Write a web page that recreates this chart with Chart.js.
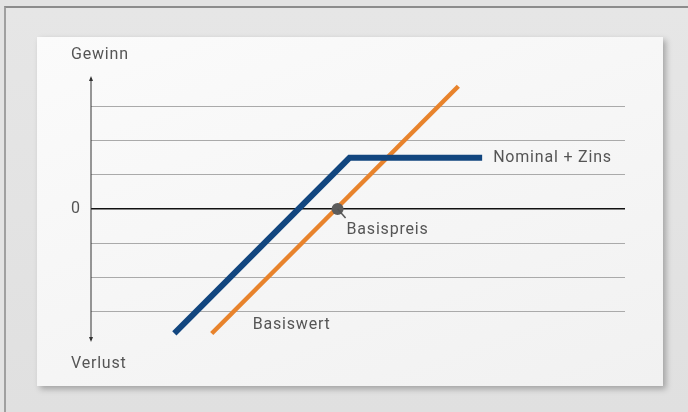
<!DOCTYPE html>
<html>
<head>
<meta charset="utf-8">
<script src="https://cdn.jsdelivr.net/npm/chart.js@4"></script>
<style>
  html, body { margin: 0; padding: 0; }
  body { width: 688px; height: 412px; background: #e3e3e3; position: relative; overflow: hidden; }
  .frame { position: absolute; left: 4px; top: 6px; right: 0; bottom: 0; border-top: 2px solid #8c8c8c; border-left: 2px solid #a0a0a0; background: linear-gradient(#e6e6e6, #e0e0e0); }
  .card { position: absolute; left: 37px; top: 37px; width: 626px; height: 349px; background: linear-gradient(160deg, #fbfbfb, #f1f1f1); box-shadow: 3px 3px 6px rgba(0,0,0,0.28); }
  #wrap { position: absolute; left: 0; top: 0; width: 688px; height: 412px; }
</style>
</head>
<body>
<div class="frame"></div>
<div class="card"></div>
<div id="wrap"><canvas id="c"></canvas></div>
<script>
// profit axis in grid steps, x in the same step size
const gridTicks = [-3, -2, -1, 0, 1, 2, 3];
const basiswertX = [3.55, 10.8];
const basiswertY = [-3.65, 3.6];
const zertifikatX = [2.45, 7.6, 11.5];
const zertifikatY = [-3.65, 1.5, 1.5];
const basispreis = { x: 7.25, y: 0 };
const yLabels = { top: "Gewinn", zero: "0", bottom: "Verlust" };

const toPoints = (xs, ys) => xs.map((x, i) => ({ x: x, y: ys[i] }));

const textColor = "#555";
const font = "16px Roboto";

const annotate = {
  id: "annotate",
  afterDraw(chart) {
    const ctx = chart.ctx;
    const a = chart.chartArea;
    const sx = chart.scales.x, sy = chart.scales.y;
    ctx.save();
    // vertical axis with arrows
    ctx.strokeStyle = "#333";
    ctx.fillStyle = "#333";
    ctx.lineWidth = 1;
    ctx.beginPath();
    ctx.moveTo(a.left, a.top + 2);
    ctx.lineTo(a.left, a.bottom - 2);
    ctx.stroke();
    ctx.beginPath();
    ctx.moveTo(a.left, a.top); ctx.lineTo(a.left - 2, a.top + 5); ctx.lineTo(a.left + 2, a.top + 5); ctx.fill();
    ctx.beginPath();
    ctx.moveTo(a.left, a.bottom); ctx.lineTo(a.left - 2, a.bottom - 5); ctx.lineTo(a.left + 2, a.bottom - 5); ctx.fill();

    ctx.font = font;
    ctx.letterSpacing = "0.8px";
    ctx.fillStyle = textColor;
    ctx.textBaseline = "middle";
    ctx.textAlign = "left";
    ctx.fillText(yLabels.top, a.left - 20, a.top - 21);
    ctx.fillText(yLabels.bottom, a.left - 20, a.bottom + 22);
    ctx.textAlign = "center";
    ctx.fillText(yLabels.zero, a.left - 15, sy.getPixelForValue(0));

    // leader from strike point to its label
    const px = sx.getPixelForValue(basispreis.x), py = sy.getPixelForValue(basispreis.y);
    ctx.strokeStyle = "#555";
    ctx.lineWidth = 1.5;
    ctx.beginPath();
    ctx.moveTo(px, py);
    ctx.lineTo(px + 8, py + 9);
    ctx.stroke();
    ctx.textAlign = "left";
    ctx.fillText("Basispreis", px + 9, py + 21);

    const zx = sx.getPixelForValue(zertifikatX[2]), zy = sy.getPixelForValue(zertifikatY[2]);
    ctx.fillText("Nominal + Zins", zx + 11, zy);

    const bx = sx.getPixelForValue(basiswertX[0]), by = sy.getPixelForValue(basiswertY[0]);
    ctx.fillText("Basiswert", bx + 41, by - 8);
    ctx.restore();
  }
};

new Chart(document.getElementById("c"), {
  type: "line",
  data: {
    datasets: [
      {
        label: "Basiswert",
        data: toPoints(basiswertX, basiswertY),
        borderColor: "#e8832c",
        borderWidth: 4.5,
        pointRadius: 0,
        borderCapStyle: "butt",
        order: 2
      },
      {
        label: "Nominal + Zins",
        data: toPoints(zertifikatX, zertifikatY),
        borderColor: "#12467f",
        borderWidth: 6,
        pointRadius: 0,
        borderJoinStyle: "miter",
        order: 1
      },
      {
        label: "Basispreis",
        data: [basispreis],
        showLine: false,
        pointRadius: 6,
        pointBackgroundColor: "#5c5c5c",
        pointBorderWidth: 0,
        order: 0
      }
    ]
  },
  options: {
    responsive: true,
    maintainAspectRatio: false,
    animation: false,
    layout: { padding: { left: 91, right: 63, top: 76, bottom: 70 } },
    plugins: { legend: { display: false }, tooltip: { enabled: false } },
    scales: {
      x: { type: "linear", min: 0, max: 15.7, display: false },
      y: {
        type: "linear",
        min: -3.9,
        max: 3.9,
        afterBuildTicks: (scale) => { scale.ticks = gridTicks.map((v) => ({ value: v })); },
        ticks: { display: false },
        border: { display: false },
        grid: {
          drawTicks: false,
          color: (c) => (c.tick && c.tick.value === 0 ? "#111" : "#aaa"),
          lineWidth: (c) => (c.tick && c.tick.value === 0 ? 1.5 : 1)
        }
      }
    }
  },
  plugins: [annotate]
});
</script>
</body>
</html>
